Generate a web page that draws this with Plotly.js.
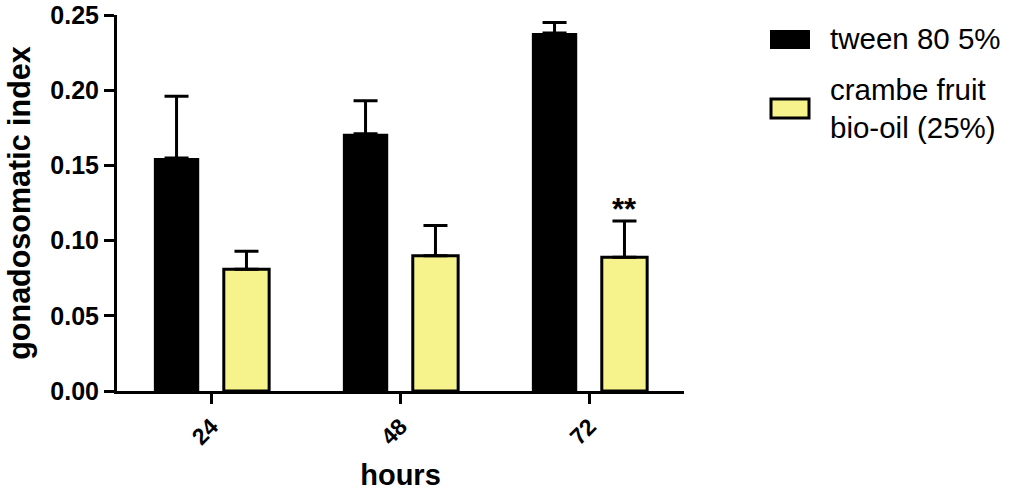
<!DOCTYPE html>
<html><head><meta charset="utf-8">
<script src="https://cdn.plot.ly/plotly-3.0.1.min.js"></script>
<style>html,body{margin:0;padding:0;background:#fff}#chart{width:1015px;height:491px}</style>
</head><body><div id="chart"></div>
<script>
const categories = ['24', '48', '72'];
const tweenMean = [0.155, 0.171, 0.238];
const tweenErr = [0.041, 0.022, 0.007];
const crambeMean = [0.081, 0.090, 0.089];
const crambeErr = [0.012, 0.020, 0.024];
const seriesNames = ['tween 80 5%', 'crambe fruit<br>bio-oil (25%)'];
const significance = ['', '', '**'];
const yTickVals = [0, 0.05, 0.1, 0.15, 0.2, 0.25];
const yTickText = ['0.00', '0.05', '0.10', '0.15', '0.20', '0.25'];

const FONT = 'Liberation Sans, Arial, sans-serif';
const barW = 0.24;
const offBlack = -0.305, offYellow = 0.065;
const yellow = '#f6f38c';

const traces = [
  {type:'bar', x:categories, y:tweenMean, name:seriesNames[0], width:barW, offset:offBlack,
   marker:{color:'#000', line:{color:'#000', width:0}},
   error_y:{type:'data', symmetric:false, array:tweenErr, arrayminus:[0,0,0], color:'#000', thickness:3, width:12}},
  {type:'bar', x:categories, y:crambeMean, name:seriesNames[1], width:barW, offset:offYellow,
   marker:{color:yellow, line:{color:'#000', width:3}},
   error_y:{type:'data', symmetric:false, array:crambeErr, arrayminus:[0,0,0], color:'#000', thickness:3, width:12}}
];

const annotations = [];
significance.forEach((s, i) => {
  if (!s) return;
  annotations.push({x: i + offYellow + barW/2, y: crambeMean[i] + crambeErr[i], xref:'x', yref:'y',
    text:'<b>' + s + '</b>', showarrow:false, yanchor:'bottom', yshift:-8, font:{family:FONT, size:31, color:'#000'}});
});
// manual legend to match the large swatches
const PX = v => (v - 117) / 567, PY = v => (391 - v) / 376;
[{t:seriesNames[0], y:39}, {t:seriesNames[1], y:108}].forEach(l => annotations.push({
  x:PX(828), y:PY(l.y), xref:'paper', yref:'paper', xanchor:'left', yanchor:'middle', align:'left',
  text:l.t, showarrow:false, font:{family:FONT, size:29.5, color:'#000'}
}));

const layout = {
  width:1015, height:491,
  margin:{l:117, r:331, t:15, b:100},
  paper_bgcolor:'#fff', plot_bgcolor:'#fff',
  barmode:'overlay', showlegend:false,
  font:{family:FONT, color:'#000'},
  xaxis:{type:'category', range:[-0.5, 2.5], showline:true, linecolor:'#000', linewidth:3,
    ticks:'outside', ticklen:10, tickwidth:3, tickcolor:'#000', tickangle:-45,
    tickfont:{family:FONT, size:23, color:'#000', weight:'bold'},
    showgrid:false, zeroline:false,
    title:{text:'<b>hours</b>', font:{family:FONT, size:29, color:'#000'}, standoff:17}},
  yaxis:{range:[0, 0.25], showline:true, linecolor:'#000', linewidth:3,
    ticks:'outside', ticklen:10, tickwidth:3, tickcolor:'#000',
    tickvals:yTickVals, ticktext:yTickText,
    tickfont:{family:FONT, size:25, color:'#000', weight:'bold'},
    showgrid:false, zeroline:false,
    title:{text:'<b>gonadosomatic index</b>', font:{family:FONT, size:30.5, color:'#000'}, standoff:11}},
  shapes:[
    {type:'rect', xref:'paper', yref:'paper', x0:PX(770), x1:PX(810), y0:PY(49), y1:PY(30),
     fillcolor:'#000', line:{color:'#000', width:0}},
    {type:'rect', xref:'paper', yref:'paper', x0:PX(771), x1:PX(809), y0:PY(118), y1:PY(99),
     fillcolor:yellow, line:{color:'#000', width:3}}
  ],
  annotations: annotations
};

Plotly.newPlot('chart', traces, layout, {displayModeBar:false, staticPlot:true});
</script></body></html>
